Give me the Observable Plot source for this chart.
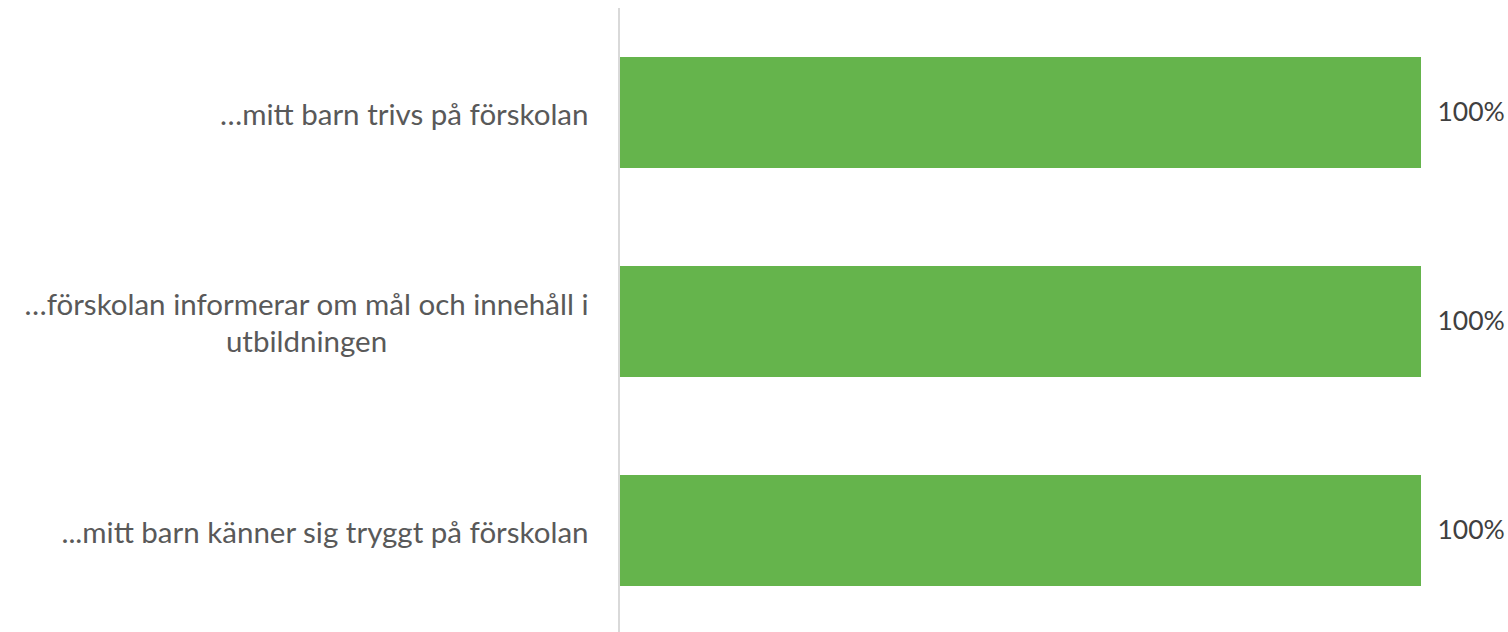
<!DOCTYPE html>
<html>
<head>
<meta charset="utf-8">
<script src="https://cdn.jsdelivr.net/npm/d3@7"></script>
<script src="https://cdn.jsdelivr.net/npm/@observablehq/plot@0.6"></script>
<style>
  html, body { margin: 0; padding: 0; background: #fff; }
</style>
</head>
<body>
<div id="chart"></div>
<script>
const categories = [
  "…mitt barn trivs på förskolan",
  "…förskolan informerar om mål och innehåll i\nutbildningen",
  "...mitt barn känner sig tryggt på förskolan"
];
const values = [1.0, 1.0, 1.0];
const valueLabels = ["100%", "100%", "100%"];

const data = categories.map((c, i) => ({category: c, value: values[i], label: valueLabels[i]}));

const chart = Plot.plot({
  width: 1508,
  height: 632,
  marginLeft: 620,
  marginRight: 87,
  marginTop: 8,
  marginBottom: 0,
  style: {fontFamily: "Lato, 'Open Sans', sans-serif", fontSize: "29px", color: "#595959", background: "#fff"},
  x: {domain: [0, 1], axis: null},
  y: {domain: categories, range: [8, 635], paddingInner: 0.47, paddingOuter: 0.235, axis: null},
  marks: [
    Plot.barX(data, {x: "value", y: "category", fill: "#65b44c"}),
    Plot.ruleX([0], {stroke: "#d9d9d9", strokeWidth: 2, dx: -1.5}),
    Plot.axisY({tickSize: 0, tickPadding: 32, label: null, lineHeight: 1.24, fontSize: 29.5, fill: "#595959"}),
    Plot.text(data, {x: "value", y: "category", text: "label", textAnchor: "start", dx: 16, fontSize: 26.5, fill: "#404040"})
  ]
});
document.getElementById("chart").appendChild(chart);

// Center-align wrapped lines within their block (block stays right-aligned to the axis)
d3.select(chart).selectAll('g[aria-label="y-axis tick label"] text').each(function () {
  const tspans = this.querySelectorAll("tspan");
  if (tspans.length < 2) return;
  let maxW = 0;
  tspans.forEach(t => { maxW = Math.max(maxW, t.getComputedTextLength()); });
  this.setAttribute("text-anchor", "middle");
  tspans.forEach(t => t.setAttribute("x", -maxW / 2));
});
</script>
</body>
</html>
